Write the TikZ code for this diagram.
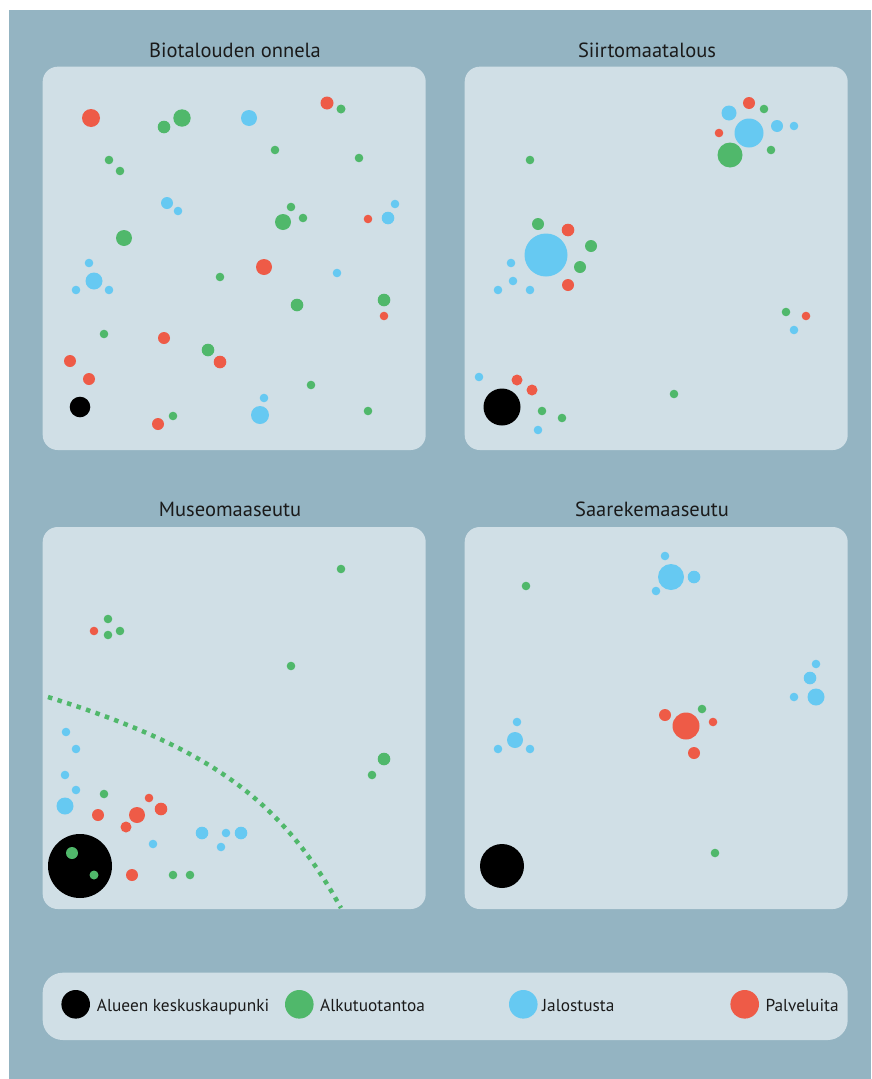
\documentclass[tikz,border=0pt]{standalone}
\usepackage{fontspec}
\setmainfont{PT Sans}
\definecolor{outerbg}{HTML}{94B4C2}
\definecolor{panelbg}{HTML}{D0DFE6}
\definecolor{cgreen}{HTML}{50B86B}
\definecolor{cblue}{HTML}{66C9F2}
\definecolor{cred}{HTML}{EE5B47}
\definecolor{ctext}{HTML}{1A1A1A}
\begin{document}
\begin{tikzpicture}[x=1pt,y=-1pt,
  panel/.style={fill=panelbg, rounded corners=15pt},
  legendbox/.style={fill=panelbg, rounded corners=20pt},
  gr/.style={fill=cgreen}, bl/.style={fill=cblue}, rd/.style={fill=cred}, bk/.style={fill=black},
  title/.style={anchor=base, text=ctext, font=\fontsize{20.5}{23}\selectfont, inner sep=0pt},
  legtext/.style={anchor=base west, text=ctext, font=\fontsize{17.3}{20}\selectfont, inner sep=0pt},
  boundary/.style={draw=cgreen, line width=4.5pt, dash pattern=on 4.5pt off 5.5pt}]
\useasboundingbox (0,0) rectangle (871,1079);
\fill[white] (0,0) rectangle (871,1079);
\fill[outerbg] (9,10) rectangle (871,1079);
% panels
\fill[panel] (42.7,66.7) rectangle (425.7,450);
\fill[panel] (464.7,66.7) rectangle (847.7,450);
\fill[panel] (42.7,527) rectangle (425.7,909);
\fill[panel] (464.7,527) rectangle (847.7,909);
\fill[legendbox] (42.7,972.7) rectangle (847.7,1040);
% titles
\node[title] (t1) at (235,57) {Biotalouden onnela};
\node[title] (t2) at (647,57) {Siirtomaatalous};
\node[title] (t3) at (230,516.5) {Museomaaseutu};
\node[title] (t4) at (652,516.5) {Saarekemaaseutu};
% ---------- panel 1
\foreach \x/\y/\r in {164/127/6.3, 182/118/8.7, 341/109/4.5, 109/160/4.3, 120/171/4.3, 275/150/4.3, 359/158/4.3,
  291/207/4.3, 283/222/8, 303/218/4.3, 124/238/8, 220/277/4.3, 297/305/6.3, 384/300/6.3,
  104/334/4.3, 208/350/6.3, 311/385/4.3, 173/416/4.3, 368/411/4.3}
  \fill[gr] (\x,\y) circle (\r pt);
\foreach \x/\y/\r in {91/118/9, 327/103/6.5, 368/219/4.3, 264/267/8, 384/316/4.3, 164/338/6,
  220/362/6.3, 70/361/6, 89/379/6, 158/424/6}
  \fill[rd] (\x,\y) circle (\r pt);
\foreach \x/\y/\r in {249/118/8, 167/203/6, 178/211/4.3, 388/218/6.3, 395/204/4.3, 89/263/4.3,
  94/281/8.5, 76/290/4.3, 109/290/4.3, 337/273/4.3, 264/398/4.3, 260/415/9}
  \fill[bl] (\x,\y) circle (\r pt);
\fill[bk] (80,407) circle (10.3pt);
% ---------- panel 2
\foreach \x/\y/\r in {530/160/4.3, 764/109/4.3, 730/155/12.5, 771/150/4.3, 538/224/6, 591/246/6,
  580/267/6, 786/312/4.3, 542/411/4.3, 562/418/4.3, 674/394/4.3}
  \fill[gr] (\x,\y) circle (\r pt);
\foreach \x/\y/\r in {749/103/6, 719/133/4.3, 568/230/6.3, 568/285/6, 806/316/4.3, 517/380/5.5, 532/390/5.5}
  \fill[rd] (\x,\y) circle (\r pt);
\foreach \x/\y/\r in {729/113/7.5, 749/133/14.5, 777/126/6, 794/126/4.3, 546/255/21.5, 511/263/4.3,
  513/281/4.3, 498/290/4.3, 530/290/4.3, 794/330/4.3, 479/377/4.3, 538/430/4.3}
  \fill[bl] (\x,\y) circle (\r pt);
\fill[bk] (502,407) circle (18.5pt);
% ---------- panel 3
\draw[boundary] (48,697) .. controls (208,747) and (281,799) .. (341,908);
\foreach \x/\y/\r in {341/569/4.3, 108/619/4.3, 108/635/4.3, 120/631/4.3, 291/666/4.3, 104/794/4.3,
  173/875/4.3, 190/875/4.3, 384/759/6.3, 372/775/4.3}
  \fill[gr] (\x,\y) circle (\r pt);
\foreach \x/\y/\r in {94/631/4.3, 98/815/6, 137/815/8, 149/798/4.3, 161/809/6.3, 126/827/5.5, 132/875/6}
  \fill[rd] (\x,\y) circle (\r pt);
\foreach \x/\y/\r in {66/732/4.3, 76/749/4.3, 65/775/4.3, 76/790/4.3, 65/806/8.5, 153/844/4.3,
  202/833/6.3, 226/833/4.3, 241/833/6.3, 221/847/4.3}
  \fill[bl] (\x,\y) circle (\r pt);
\fill[bk] (80,866) circle (32pt);
\fill[gr] (72,853) circle (6pt);
\fill[gr] (94,875) circle (4.5pt);
% ---------- panel 4
\foreach \x/\y/\r in {526/586/4.3, 702/709/4.3, 715/853/4.3}
  \fill[gr] (\x,\y) circle (\r pt);
\foreach \x/\y/\r in {686/726/13.5, 665/715/6, 713/722/4.3, 694/753/6}
  \fill[rd] (\x,\y) circle (\r pt);
\foreach \x/\y/\r in {671/577/13, 665/556/4.3, 694/577/6.3, 656/591/4.3, 816/664/4.3, 810/678/6.3,
  816/697/8.5, 794/697/4.3, 515/740/8, 517/722/4.3, 498/749/4.3, 530/749/4.3}
  \fill[bl] (\x,\y) circle (\r pt);
\fill[bk] (502,866) circle (22pt);
% ---------- legend
\fill[bk] (75.7,1004.3) circle (14.3pt);
\node[legtext] (l1) at (96.7,1011.5) {Alueen keskuskaupunki};
\fill[gr] (299.3,1004.3) circle (14.3pt);
\node[legtext] (l2) at (320,1011.5) {Alkutuotantoa};
\fill[bl] (523.3,1004.3) circle (14.3pt);
\node[legtext] (l3) at (542,1011.5) {Jalostusta};
\fill[rd] (744.7,1004.3) circle (14.3pt);
\node[legtext] (l4) at (765.3,1011.5) {Palveluita};
\end{tikzpicture}
\end{document}
